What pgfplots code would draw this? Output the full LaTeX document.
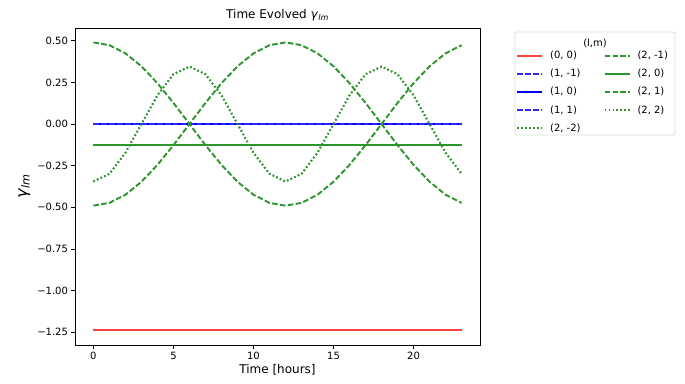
\documentclass[border=0pt]{standalone}
\usepackage{fontspec}
\setmainfont{DejaVu Sans}
\usepackage{pgfplots}
\usepackage{pgfplotstable}
\pgfplotsset{compat=1.18}
\definecolor{mred}{RGB}{255,64,64}
\definecolor{mblue}{RGB}{0,0,255}
\definecolor{mbluel}{RGB}{40,40,255}
\definecolor{mgreen}{RGB}{44,150,44}
\pgfplotstableread{
t g00 g1m1 g10 g11 g2m2 g2m1 g20 g21 g22
0 -1.2375 0 0 0 -0.3450 0.4900 -0.124 -0.4900 -0.3450
1 -1.2375 0 0 0 -0.2988 0.4733 -0.124 -0.4733 -0.2988
2 -1.2375 0 0 0 -0.1725 0.4244 -0.124 -0.4244 -0.1725
3 -1.2375 0 0 0 0.0000 0.3465 -0.124 -0.3465 0.0000
4 -1.2375 0 0 0 0.1725 0.2450 -0.124 -0.2450 0.1725
5 -1.2375 0 0 0 0.2988 0.1268 -0.124 -0.1268 0.2988
6 -1.2375 0 0 0 0.3450 0.0000 -0.124 0.0000 0.3450
7 -1.2375 0 0 0 0.2988 -0.1268 -0.124 0.1268 0.2988
8 -1.2375 0 0 0 0.1725 -0.2450 -0.124 0.2450 0.1725
9 -1.2375 0 0 0 0.0000 -0.3465 -0.124 0.3465 0.0000
10 -1.2375 0 0 0 -0.1725 -0.4244 -0.124 0.4244 -0.1725
11 -1.2375 0 0 0 -0.2988 -0.4733 -0.124 0.4733 -0.2988
12 -1.2375 0 0 0 -0.3450 -0.4900 -0.124 0.4900 -0.3450
13 -1.2375 0 0 0 -0.2988 -0.4733 -0.124 0.4733 -0.2988
14 -1.2375 0 0 0 -0.1725 -0.4244 -0.124 0.4244 -0.1725
15 -1.2375 0 0 0 0.0000 -0.3465 -0.124 0.3465 0.0000
16 -1.2375 0 0 0 0.1725 -0.2450 -0.124 0.2450 0.1725
17 -1.2375 0 0 0 0.2988 -0.1268 -0.124 0.1268 0.2988
18 -1.2375 0 0 0 0.3450 0.0000 -0.124 0.0000 0.3450
19 -1.2375 0 0 0 0.2988 0.1268 -0.124 -0.1268 0.2988
20 -1.2375 0 0 0 0.1725 0.2450 -0.124 -0.2450 0.1725
21 -1.2375 0 0 0 0.0000 0.3465 -0.124 -0.3465 0.0000
22 -1.2375 0 0 0 -0.1725 0.4244 -0.124 -0.4244 -0.1725
23 -1.2375 0 0 0 -0.2988 0.4733 -0.124 -0.4733 -0.2988
}\data
\tikzset{
  sred/.style={draw=mred, line width=1.9pt},
  sblue/.style={draw=mblue, line width=1.9pt},
  sbluedash/.style={draw=mbluel, line width=1.9pt, dash pattern=on 5.55pt off 2.4pt},
  sgreen/.style={draw=mgreen, line width=1.9pt},
  sgreendash/.style={draw=mgreen, line width=1.9pt, dash pattern=on 5.55pt off 2.4pt},
  sgreendot/.style={draw=mgreen, line width=1.9pt, dash pattern=on 1.5pt off 2.475pt},
}
\begin{document}
\begin{tikzpicture}
\begin{axis}[
  scale only axis,
  clip=false,
  width=405pt, height=317pt,
  xmin=-1.15, xmax=24.15,
  ymin=-1.3265, ymax=0.5765,
  axis line style={line width=0.8pt},
  tick style={line width=0.8pt, black},
  tick align=outside,
  major tick length=3.5pt,
  xtick={0,5,10,15,20},
  ytick={-1.25,-1,-0.75,-0.5,-0.25,0,0.25,0.5},
  yticklabels={−1.25,−1.00,−0.75,−0.50,−0.25,0.00,0.25,0.50},
  xtick pos=bottom, ytick pos=left,
  /pgf/number format/assume math mode=true,
  ticklabel style={font=\fontsize{10}{12}\selectfont},
  title={Time Evolved \textit{γ}\textsubscript{\textit{lm}}},
  title style={font=\fontsize{12}{14}\selectfont, yshift=-3pt},
  xlabel={Time [hours]},
  xlabel style={font=\fontsize{12}{14}\selectfont, yshift=2pt},
  ylabel={\textit{γ}\textsubscript{\textit{lm}}},
  ylabel style={font=\fontsize{16}{18}\selectfont},
  legend columns=5,
  transpose legend,
  legend style={draw=none, fill=none, at={(rel axis cs:1.0815,0.94)}, anchor=north west,
    font=\fontsize{10}{12}\selectfont, row sep=5pt,
    /tikz/every odd column/.append style={column sep=5pt},
    /tikz/every even column/.append style={column sep=21pt}},
  legend cell align=left,
  legend image code/.code={\draw[#1] (0pt,0pt) -- (25pt,0pt);},
]
\addplot[sred] table[x=t, y=g00] {\data};
\addlegendentry{(0, 0)}
\addplot[sbluedash] table[x=t, y=g1m1] {\data};
\addlegendentry{(1, -1)}
\addplot[sblue] table[x=t, y=g10] {\data};
\addlegendentry{(1, 0)}
\addplot[sbluedash] table[x=t, y=g11] {\data};
\addlegendentry{(1, 1)}
\addplot[sgreendot] table[x=t, y=g2m2] {\data};
\addlegendentry{(2, -2)}
\addplot[sgreendash] table[x=t, y=g2m1] {\data};
\addlegendentry{(2, -1)}
\addplot[sgreen] table[x=t, y=g20] {\data};
\addlegendentry{(2, 0)}
\addplot[sgreendash] table[x=t, y=g21] {\data};
\addlegendentry{(2, 1)}
\addplot[sgreendot] table[x=t, y=g22] {\data};
\addlegendentry{(2, 2)}
\node[font=\fontsize{10}{12}\selectfont, anchor=center] at (rel axis cs:1.284,0.953) {(l,m)};
\draw[gray!30, rounded corners=2pt, line width=0.8pt] (rel axis cs:1.0864,0.9874) rectangle (rel axis cs:1.4815,0.6625);
\end{axis}
\pgfresetboundingbox
\path (current axis.south west) ++(-75pt,-38pt) rectangle ++(685pt,383pt);
\end{tikzpicture}
\end{document}
